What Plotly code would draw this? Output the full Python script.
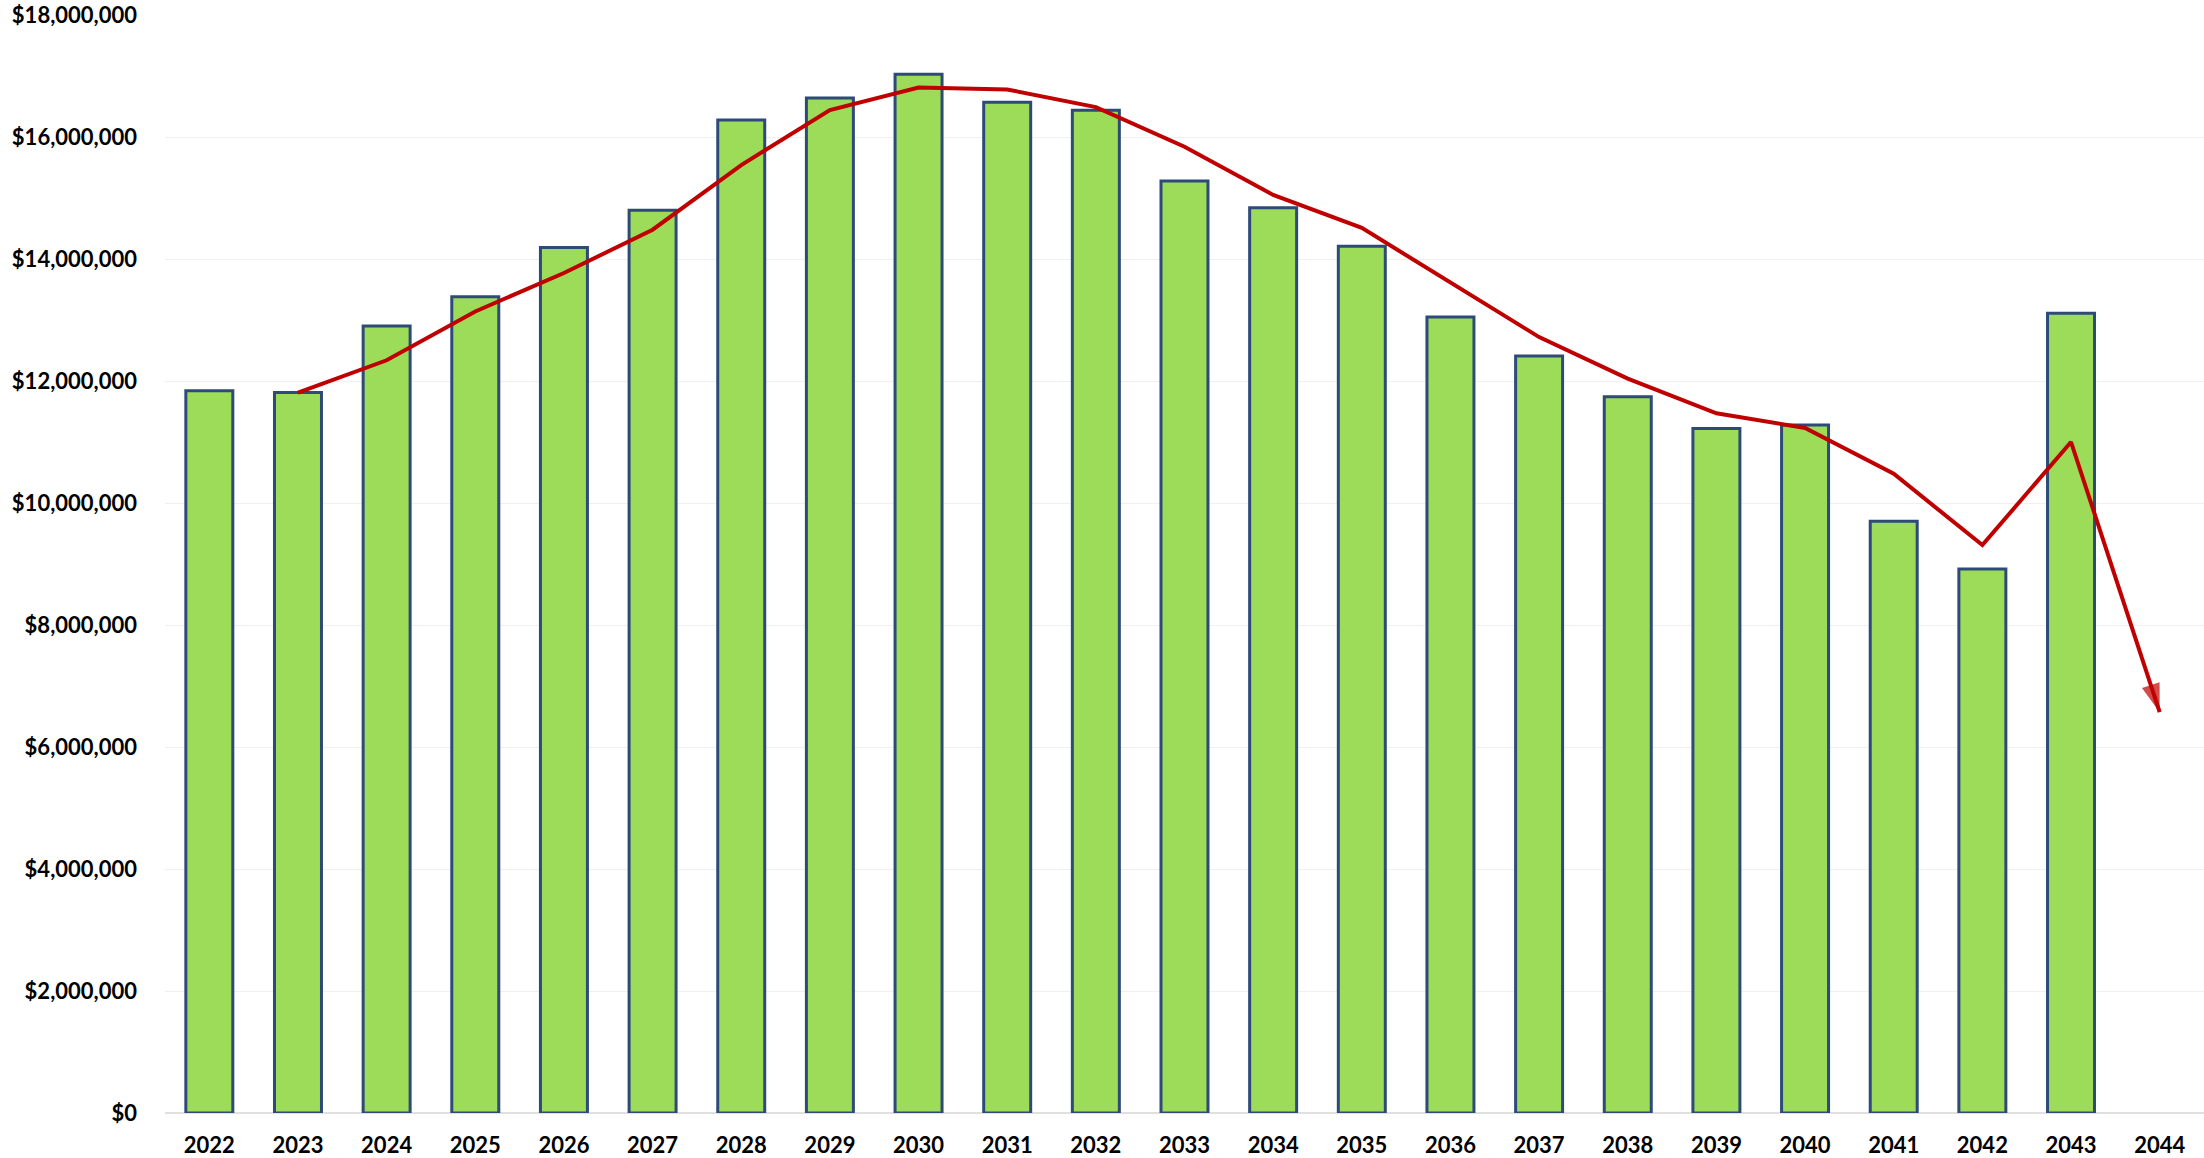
import plotly.graph_objects as go

years = list(range(2022, 2045))
bar_years = list(range(2022, 2044))
bar_values = [11.84, 11.81, 12.90, 13.38, 14.19, 14.80, 16.28, 16.64, 17.03, 16.57,
              16.44, 15.28, 14.84, 14.21, 13.05, 12.41, 11.74, 11.22, 11.28, 9.70,
              8.92, 13.11]
bar_values = [v * 1e6 for v in bar_values]

trend_years = list(range(2023, 2045))
trend_values = [11.81, 12.34, 13.14, 13.77, 14.48, 15.54, 16.44, 16.81, 16.78, 16.49,
                15.84, 15.05, 14.51, 13.61, 12.72, 12.04, 11.47, 11.23, 10.48, 9.31,
                11.00, 6.57]
trend_values = [v * 1e6 for v in trend_values]

y_ticks = list(range(0, 18000001, 2000000))

fig = go.Figure()
fig.add_trace(go.Bar(
    x=bar_years, y=bar_values, width=0.53,
    marker=dict(color="#9cdc58", line=dict(color="#2e4a78", width=3)),
    showlegend=False, hoverinfo="x+y",
))
n = len(trend_years)
fig.add_trace(go.Scatter(
    x=trend_years, y=trend_values, mode="lines+markers",
    line=dict(color="#c00000", width=4),
    marker=dict(symbol=["circle"] * (n - 1) + ["arrow"],
                size=[0] * (n - 1) + [30],
                color="#c00000", angleref="previous",
                line=dict(width=0)),
    showlegend=False,
))

font = "Lato, 'Open Sans', sans-serif"
fig.update_layout(
    width=2204, height=1158,
    margin=dict(l=165, r=0, t=15, b=45),
    paper_bgcolor="white", plot_bgcolor="white",
    bargap=0.47,
    xaxis=dict(
        range=[2021.5, 2044.5], tickmode="array", tickvals=years,
        ticktext=[str(y) for y in years],
        tickfont=dict(family=font, size=22, color="black", weight="bold"),
        showgrid=False, zeroline=False, showline=False, ticks="",
        ticklabelstandoff=17,
    ),
    yaxis=dict(
        range=[0, 18000000], tickmode="array", tickvals=y_ticks,
        ticktext=["$" + f"{v:,}" for v in y_ticks],
        tickfont=dict(family=font, size=22, color="black", weight="bold"),
        showgrid=True, gridcolor="#f0f0f0", gridwidth=1,
        zeroline=True, zerolinecolor="#e0e0e0", showline=False, ticks="",
        ticklabelstandoff=27,
    ),
)

fig.write_html("out.html")
